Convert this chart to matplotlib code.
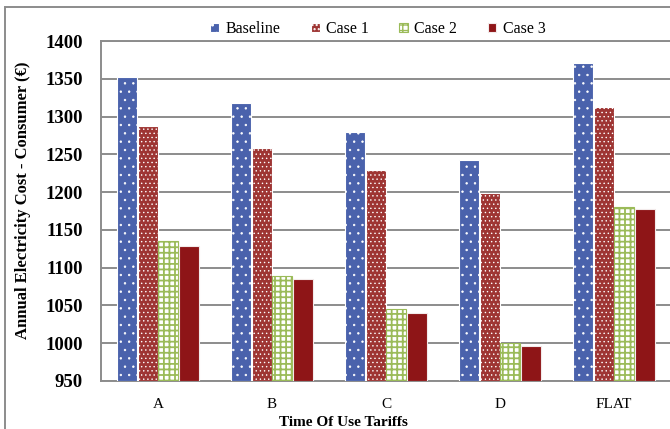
import numpy as np
import matplotlib
matplotlib.use("Agg")
import matplotlib.pyplot as plt
import matplotlib.patches as patches

tariffs = ["A", "B", "C", "D", "FLAT"]
series = ["Baseline", "Case 1", "Case 2", "Case 3"]
baseline = [1353, 1318, 1280, 1242, 1371]
case1 = [1288, 1258, 1229, 1199, 1313]
case2 = [1135, 1089, 1045, 1000, 1180]
case3 = [1129, 1085, 1040, 996, 1177]
yticks = [950, 1000, 1050, 1100, 1150, 1200, 1250, 1300, 1350, 1400]

plt.rcParams['font.family'] = ['Liberation Serif', 'DejaVu Serif']

fig = plt.figure(figsize=(6.7, 4.29), dpi=100)
ax = fig.add_axes([0.1507, 0.1119, 0.851, 0.7925])

# face colour, hatch/edge colour, hatch, hatch linewidth
styles = [
    ('#4A62AC', 'white', '..', 0.5),
    ('#9E3533', 'white', '....', 0.5),
    ('white', '#9BBB59', '+++', 1.3),
    ('#8E1517', '#f2eaea', None, 1.0),
]
values = [baseline, case1, case2, case3]
x = np.arange(len(tariffs))
w = 0.175
step = 0.18
for i, (vals, (fc, ec, h, hlw)) in enumerate(zip(values, styles)):
    with plt.rc_context({'hatch.linewidth': hlw}):
        bars = ax.bar(x + (i - 1.5) * step, np.array(vals) - 950, bottom=950, width=w,
                      facecolor=fc, edgecolor=ec, hatch=h, linewidth=0.8,
                      label=series[i], zorder=3)
    for b in bars:
        if hasattr(b, 'set_hatch_linewidth'):
            b.set_hatch_linewidth(hlw)

ax.set_xlim(-0.5, 4.5)
ax.set_ylim(950, 1400)
ax.set_yticks(yticks)
ax.set_xticks(x)
ax.set_xticklabels(tariffs, fontsize=11)
for t in ax.get_yticklabels():
    t.set_fontsize(13.5)
    t.set_fontweight('bold')
ax.tick_params(axis='y', length=0, pad=13)
ax.tick_params(axis='x', length=0, pad=12)
ax.grid(axis='y', color='#8c8c8c', linewidth=1.4, zorder=0)
ax.spines['right'].set_visible(False)
for s in ['left', 'bottom', 'top']:
    ax.spines[s].set_color('#8c8c8c')
    ax.spines[s].set_linewidth(1.4)

fig.text(23 / 670, 1 - 200 / 429, "Annual Electricity Cost - Consumer (€)",
         rotation=90, ha='center', va='center', fontsize=12, fontweight='bold')
fig.text(343 / 670, 1 - 422 / 429, "Time Of Use Tariffs",
         ha='center', va='center', fontsize=11, fontweight='bold')

leg = fig.legend(loc='center', bbox_to_anchor=(378 / 670, 1 - 29 / 429), ncol=4,
                 frameon=False, fontsize=11.5, handlelength=0.55, handleheight=0.55,
                 handletextpad=0.4, columnspacing=1.9)

border = patches.Rectangle((5 / 670, -0.1), 2, 1 - 7 / 429 + 0.1,
                           transform=fig.transFigure, fill=False,
                           edgecolor='#8c8c8c', linewidth=1.4)
fig.patches.append(border)

fig.savefig("out.png", dpi=100)
